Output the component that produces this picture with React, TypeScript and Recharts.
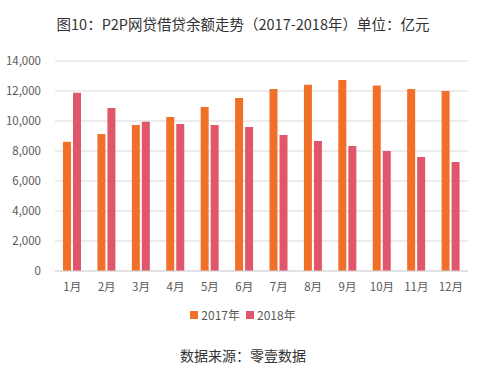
import React from 'react';
import { BarChart, Bar, XAxis, YAxis, CartesianGrid } from 'recharts';

const months = ['1月', '2月', '3月', '4月', '5月', '6月', '7月', '8月', '9月', '10月', '11月', '12月'];
const values2017 = [8620, 9130, 9730, 10270, 10930, 11530, 12130, 12420, 12730, 12360, 12130, 12000];
const values2018 = [11890, 10870, 9950, 9800, 9730, 9600, 9070, 8670, 8330, 8000, 7600, 7270];
const yTicks = [0, 2000, 4000, 6000, 8000, 10000, 12000, 14000];
const seriesNames = ['2017年', '2018年'];
const seriesColors = ['#F0702A', '#E0566A'];

const data = months.map((m, i) => ({ month: m, y2017: values2017[i], y2018: values2018[i] }));

const FONT = '"Noto Sans CJK SC", "Noto Sans", sans-serif';

export default function App() {
  return (
    <div style={{ position: 'absolute', left: 0, top: 0, width: 499, height: 370, background: '#fff', fontFamily: FONT }}>
      <div style={{ position: 'absolute', left: 0, top: 14, width: 486, textAlign: 'center', fontSize: 14.5, color: '#333', lineHeight: '20px' }}>
        图10：P2P网贷借贷余额走势（2017-2018年）单位：亿元
      </div>
      <BarChart
        width={499}
        height={370}
        data={data}
        margin={{ top: 61, right: 31, bottom: 69, left: 0 }}
        barGap={2}
        barSize={8}
      >
        <CartesianGrid vertical={false} stroke="#d9d9d9" />
        <XAxis
          dataKey="month"
          height={30}
          tickLine={false}
          axisLine={{ stroke: '#d9d9d9' }}
          tick={{ fill: '#595959', fontSize: 11.5, fontFamily: FONT }}
          tickMargin={6}
          interval={0}
        />
        <YAxis
          width={55}
          domain={[0, 14000]}
          ticks={yTicks}
          axisLine={false}
          tickLine={false}
          tick={{ fill: '#595959', fontSize: 11.5, fontFamily: FONT }}
          tickFormatter={(v: number) => v.toLocaleString('en-US')}
          tickMargin={8}
        />
        <Bar dataKey="y2017" name={seriesNames[0]} fill={seriesColors[0]} isAnimationActive={false} />
        <Bar dataKey="y2018" name={seriesNames[1]} fill={seriesColors[1]} isAnimationActive={false} />
      </BarChart>
      <div style={{ position: 'absolute', left: 0, top: 306, width: 486, display: 'flex', justifyContent: 'center', alignItems: 'center', fontSize: 12, color: '#595959', lineHeight: '18px' }}>
        {seriesNames.map((n, i) => (
          <span key={n} style={{ display: 'inline-flex', alignItems: 'center', marginRight: i === 0 ? 6 : 0 }}>
            <span style={{ display: 'inline-block', width: 8, height: 8, background: seriesColors[i], marginRight: 3 }} />
            {n}
          </span>
        ))}
      </div>
      <div style={{ position: 'absolute', left: 0, top: 345, width: 486, textAlign: 'center', fontSize: 14, color: '#333', lineHeight: '20px' }}>
        数据来源：零壹数据
      </div>
    </div>
  );
}
